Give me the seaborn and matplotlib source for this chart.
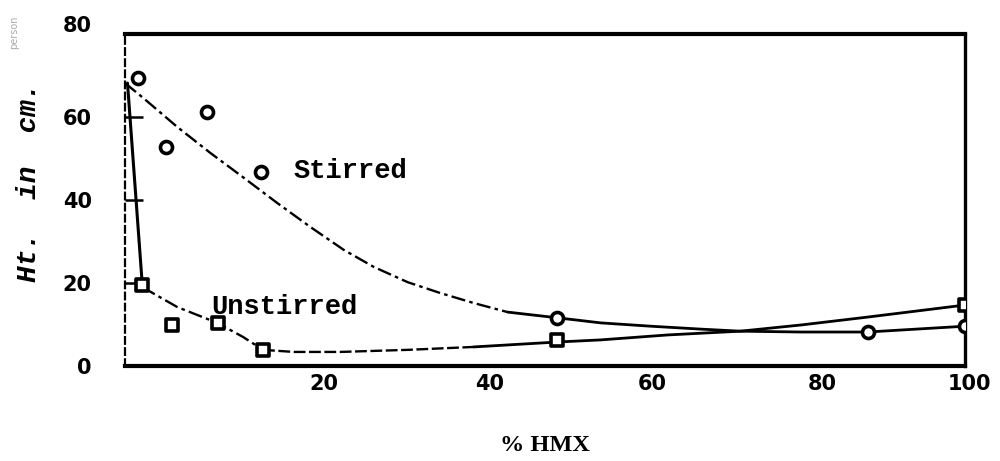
import matplotlib
matplotlib.use("Agg")
import matplotlib.pyplot as plt
from matplotlib.transforms import ScaledTranslation
import seaborn as sns
import numpy as np

stirred_x = [0.6, 3.9, 8.9, 15.3, 51.0, 88.3, 100.0]
stirred_y = [69.4, 52.8, 61.2, 46.7, 11.6, 8.2, 9.6]
unstirred_x = [1.1, 4.7, 10.2, 15.6, 51.0, 100.0]
unstirred_y = [19.5, 9.9, 10.4, 3.9, 6.3, 14.7]

# hand drawn curves
stirred_curve_x = [-1.0, 1.2, 5.3, 9.3, 13.2, 17.3, 21.3, 25.3, 28.9, 33.0, 36.9, 40.9,
                   45.0, 51.1, 56.2, 62.2, 68.2, 73.0, 80.3, 88.3, 100.0]
stirred_curve_y = [68.2, 64.6, 57.6, 51.3, 45.5, 39.3, 33.5, 28.0, 23.9, 20.2, 17.6, 15.2,
                   13.0, 11.6, 10.4, 9.6, 8.9, 8.4, 8.2, 8.2, 9.6]
unstirred_curve_x = [-0.7, 1.1, 5.3, 10.1, 13.2, 15.6, 19.3, 24.9, 33.0, 40.9,
                     51.1, 56.2, 64.3, 73.0, 80.3, 88.3, 100.0]
unstirred_curve_y = [68.2, 19.0, 14.2, 10.4, 7.0, 3.9, 3.4, 3.4, 3.9, 4.6,
                     5.8, 6.3, 7.5, 8.4, 9.9, 11.8, 14.7]

x_ticks = [20, 40, 60, 80, 100]
y_ticks = [0, 20, 40, 60, 80]

sns.set_style("white")
fig = plt.figure(figsize=(10, 4.61), dpi=100)
ax = fig.add_axes([0.125, 0.206, 0.84, 0.72])

dashdot = (0, (6, 1.8, 1.5, 1.8))
dashed = (0, (5, 1.5))

# stirred curve: dash-dot first part, solid after
sns.lineplot(x=stirred_curve_x[:13], y=stirred_curve_y[:13], ax=ax, color="black",
             lw=1.7, linestyle=dashdot, estimator=None, sort=False)
sns.lineplot(x=stirred_curve_x[12:], y=stirred_curve_y[12:], ax=ax, color="black",
             lw=2.0, estimator=None, sort=False)

# unstirred curve: solid drop, dash-dot, dashed, solid
sns.lineplot(x=unstirred_curve_x[:2], y=unstirred_curve_y[:2], ax=ax, color="black",
             lw=2.2, estimator=None, sort=False)
sns.lineplot(x=unstirred_curve_x[1:6], y=unstirred_curve_y[1:6], ax=ax, color="black",
             lw=1.7, linestyle=dashdot, estimator=None, sort=False)
sns.lineplot(x=unstirred_curve_x[5:10], y=unstirred_curve_y[5:10], ax=ax, color="black",
             lw=1.7, linestyle=dashed, estimator=None, sort=False)
sns.lineplot(x=unstirred_curve_x[9:], y=unstirred_curve_y[9:], ax=ax, color="black",
             lw=2.0, estimator=None, sort=False)

sns.scatterplot(x=stirred_x, y=stirred_y, ax=ax, marker="o", s=75, facecolor="white",
                edgecolor="black", linewidth=2.6, zorder=5)
sns.scatterplot(x=unstirred_x, y=unstirred_y, ax=ax, marker="s", s=75, facecolor="white",
                edgecolor="black", linewidth=2.6, zorder=5)

ax.set_xlim(-1, 100)
ax.set_ylim(0, 80)
ax.set_xticks(x_ticks)
ax.set_yticks(y_ticks)
ax.set_xticklabels([str(v) for v in x_ticks])
ax.set_yticklabels([str(v) for v in y_ticks])
ax.tick_params(axis="x", length=0, pad=6, labelsize=15, colors="black")
ax.tick_params(axis="y", left=True, direction="in", length=13, width=1.8, pad=24,
               labelsize=15, colors="black")
for lab in ax.get_xticklabels() + ax.get_yticklabels():
    lab.set_fontweight("bold")
    lab.set_family("DejaVu Sans")

# typed labels sit a bit off their gridline on the original
offsets = [0.24, 0.24, 0.2, 0.24, 0.04]
for lab, dx in zip(ax.get_xticklabels(), offsets):
    lab.set_transform(lab.get_transform() + ScaledTranslation(dx, 0, fig.dpi_scale_trans))
top_lab = ax.get_yticklabels()[-1]
top_lab.set_transform(top_lab.get_transform() + ScaledTranslation(0, 0.1, fig.dpi_scale_trans))

for side in ["top", "bottom"]:
    ax.spines[side].set_linewidth(3)
ax.spines["right"].set_linewidth(2.4)
ax.spines["left"].set_linewidth(1.6)
ax.spines["left"].set_linestyle((0, (3, 2)))
for s in ax.spines.values():
    s.set_color("black")

ax.text(19.3, 46.9, "Stirred", family="Liberation Mono", fontweight="bold",
        fontsize=19.5, va="center", ha="left", color="black")
ax.text(9.4, 14.3, "Unstirred", family="Liberation Mono", fontweight="bold",
        fontsize=19.5, va="center", ha="left", color="black")

ax.set_xlabel("% HMX", family="Liberation Serif", fontweight="bold", fontsize=17.5,
              labelpad=29, color="black")
ax.set_ylabel("Ht.  in  cm.", family="Liberation Mono", fontweight="bold",
              style="italic", fontsize=20, color="black")
ax.yaxis.set_label_coords(-0.099, 0.554)

fig.text(0.014, 0.93, "person", rotation=90, color="#aaaaaa", fontsize=7,
         ha="center", va="center")

fig.savefig("out.png", dpi=100)
